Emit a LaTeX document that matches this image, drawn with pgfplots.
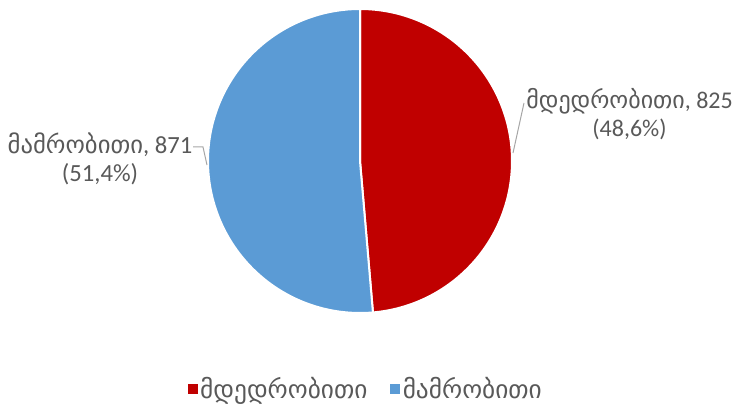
\documentclass[border=0pt]{standalone}
\usepackage{pgfplots}
\pgfplotsset{compat=1.18}
\usepackage{fontspec}
\setmainfont{Carlito}
\newfontfamily\geo{DejaVu Sans}
\definecolor{cRed}{HTML}{C00000}
\definecolor{cBlue}{HTML}{5B9BD5}
\definecolor{cText}{HTML}{595959}
\definecolor{cLine}{HTML}{A6A6A6}
\def\valF{825}
\def\valM{871}
\pgfmathsetmacro\splitang{90-\valF/(\valF+\valM)*360}
\begin{document}
\begin{tikzpicture}
\begin{axis}[scale only axis, width=551.25pt, height=304.5pt,
  xmin=0, xmax=735, ymin=0, ymax=406, hide axis, clip=false,
  legend columns=2,
  legend style={at={(axis cs:366,17)}, anchor=center, draw=none, fill=none,
    inner sep=0pt, outer sep=0pt,
    font=\geo\fontsize{19}{20}\selectfont, text=cText,
    /tikz/every even column/.append style={column sep=15pt}},
]
\coordinate (BL) at (rel axis cs:0,0);
\coordinate (TR) at (rel axis cs:1,1);
\addplot[fill=cRed, draw=white, line width=1.5pt, domain=\splitang:90, samples=200,
  legend image code/.code={\fill[cRed] (0pt,-3pt) rectangle (6pt,3pt);}]
  ({360+152*cos(x)},{245+152*sin(x)}) -- (axis cs:360,245) -- cycle;
\addlegendentry{მდედრობითი}
\addplot[fill=cBlue, draw=white, line width=1.5pt, domain=-270:\splitang, samples=200,
  legend image code/.code={\fill[cBlue] (0pt,-3pt) rectangle (6pt,3pt);}]
  ({360+152*cos(x)},{245+152*sin(x)}) -- (axis cs:360,245) -- cycle;
\addlegendentry{მამრობითი}
\addplot[cLine, line width=0.75pt, forget plot] coordinates {(513,253) (524,303)};
\addplot[cLine, line width=0.75pt, forget plot] coordinates {(193,259) (203,259) (207,241)};
\node[text=cText, align=center, anchor=east, inner sep=0pt,
  font=\fontsize{18}{21}\selectfont] at (axis cs:733,292)
  {{\geo მდედრობითი}, 825\\(48,6\%)};
\node[text=cText, align=center, font=\fontsize{18.5}{21}\selectfont] at (axis cs:100,247)
  {{\geo მამრობითი}, 871\\(51,4\%)};
\end{axis}
\pgfresetboundingbox
\path (BL) rectangle (TR);
\end{tikzpicture}
\end{document}
